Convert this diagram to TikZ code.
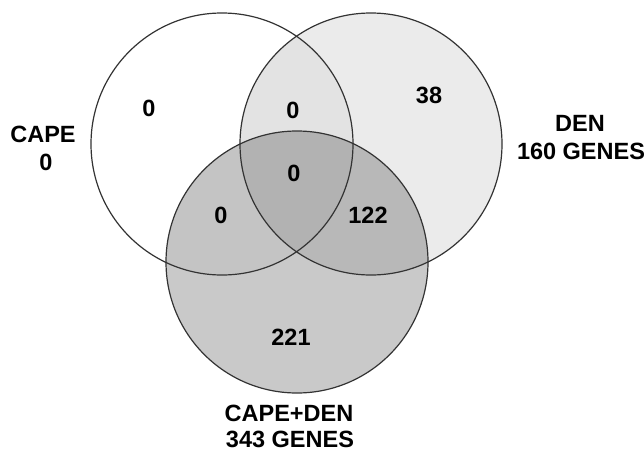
\documentclass[tikz,border=0pt]{standalone}
\usepackage{fontspec}
\setmainfont{Liberation Sans}
\definecolor{ronly}{HTML}{EBEBEB}
\definecolor{lr}{HTML}{E3E3E3}
\definecolor{bonly}{HTML}{C9C9C9}
\definecolor{lb}{HTML}{C4C4C4}
\definecolor{rb}{HTML}{B8B8B8}
\definecolor{ctr}{HTML}{B2B2B2}
\definecolor{edge}{HTML}{333333}
\tikzset{
  lbl/.style={font=\fontsize{23.5}{26}\selectfont\bfseries, inner sep=0pt, align=center},
  ring/.style={draw=edge, line width=1.2pt}
}
\begin{document}
\begin{tikzpicture}[x=1pt,y=1pt]
\useasboundingbox (0,0) rectangle (644,451);
\def\rr{131}
\coordinate (cl) at (222,307);
\coordinate (cr) at (371,307);
\coordinate (cb) at (297,189);
% fills
\fill[ronly] (cr) circle (\rr);
\begin{scope}
  \clip (cl) circle (\rr);
  \fill[lr] (cr) circle (\rr);
\end{scope}
\fill[bonly] (cb) circle (\rr);
\begin{scope}
  \clip (cl) circle (\rr);
  \fill[lb] (cb) circle (\rr);
\end{scope}
\begin{scope}
  \clip (cr) circle (\rr);
  \fill[rb] (cb) circle (\rr);
  \clip (cl) circle (\rr);
  \fill[ctr] (cb) circle (\rr);
\end{scope}
% outlines
\draw[ring] (cl) circle (\rr);
\draw[ring] (cr) circle (\rr);
\draw[ring] (cb) circle (\rr);
% region counts
\node[lbl] (nl) at (149,343) {0};
\node[lbl] (nlr) at (293,341) {0};
\node[lbl] (nr) at (429,356) {38};
\node[lbl] (nc) at (294,278) {0};
\node[lbl] (nlb) at (221,236) {0};
\node[lbl] (nrb) at (368,236) {122};
\node[lbl] (nb) at (291,114) {221};
% set labels
\node[lbl] (capet) at (43,317) {CAPE};
\node[lbl] (capen) at (46,289) {0};
\node[lbl] (dent) at (580,328) {DEN};
\node[lbl] (denn) at (581,300) {160 GENES};
\node[lbl] (cdt) at (289,38) {CAPE+DEN};
\node[lbl] (cdn) at (290,12) {343 GENES};
\end{tikzpicture}
\end{document}
